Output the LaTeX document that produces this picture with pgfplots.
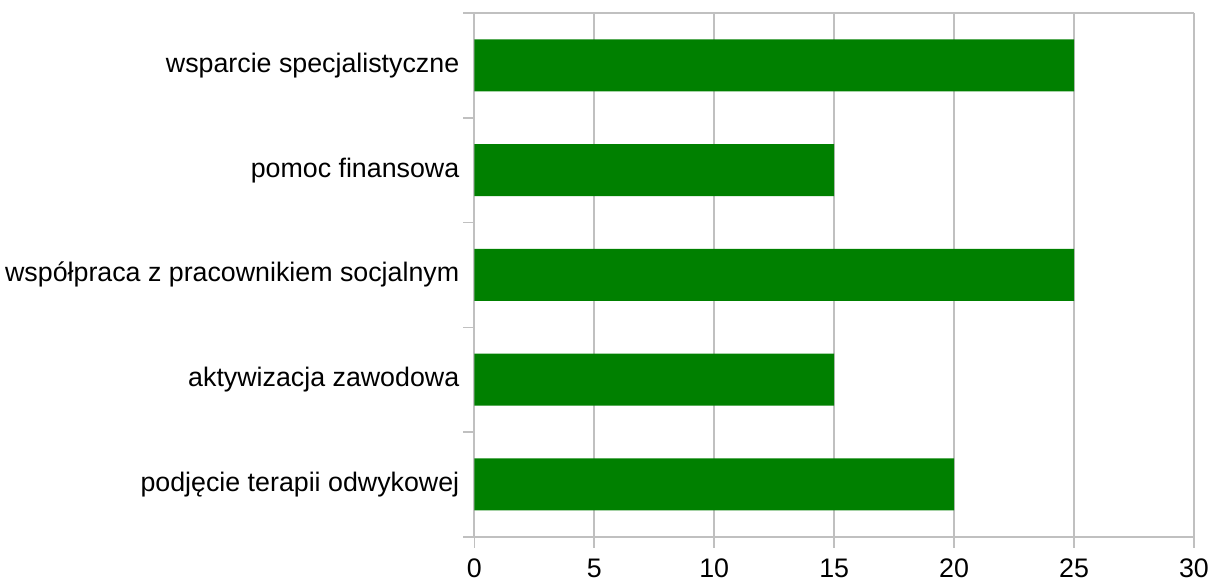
\documentclass[border=0pt]{standalone}
\usepackage{fontspec}
\setmainfont{Liberation Sans}
\usepackage{pgfplots}
\pgfplotsset{compat=1.18}
\definecolor{bargreen}{RGB}{0,128,0}
\definecolor{gridgray}{RGB}{192,192,192}
\begin{document}
\begin{tikzpicture}
\path[use as bounding box] (-237.25pt,-22.5pt) rectangle (368pt,268.5pt);
\begin{axis}[
  at={(0,0)}, anchor=south west,
  scale only axis, width=360pt, height=262pt,
  xmin=0, xmax=30, xtick={0,5,...,30},
  ymin=-0.5, ymax=4.5,
  ytick={-0.5,0.5,...,4.5},
  y tick label as interval,
  yticklabels={podjęcie terapii odwykowej, aktywizacja zawodowa, współpraca z pracownikiem socjalnym, pomoc finansowa, wsparcie specjalistyczne},
  major tick length=5.5pt,
  every x tick/.style={draw=gridgray, line width=0.75pt},
  every y tick/.style={draw=gridgray, line width=0.75pt},
  tick align=outside,
  xtick pos=bottom, ytick pos=left,
  xmajorgrids, grid style={draw=gridgray, line width=0.75pt},
  axis line style={draw=gridgray, line width=0.9pt},
  axis x line*=bottom, axis y line*=left,
  tick label style={font=\fontsize{13.4}{15}\selectfont},
  xticklabel style={yshift=-2pt},
  yticklabel style={xshift=1.5pt},
  /pgf/number format/assume math mode=true,
  clip=false,
]
\addplot[xbar, bar width=26pt, bar shift=0pt, fill=bargreen, draw=none]
  coordinates {(20,0) (15,1) (25,2) (15,3) (25,4)};
\draw[gridgray, line width=0.9pt] (rel axis cs:0,1) -- (rel axis cs:1,1);
\end{axis}
\end{tikzpicture}
\end{document}
